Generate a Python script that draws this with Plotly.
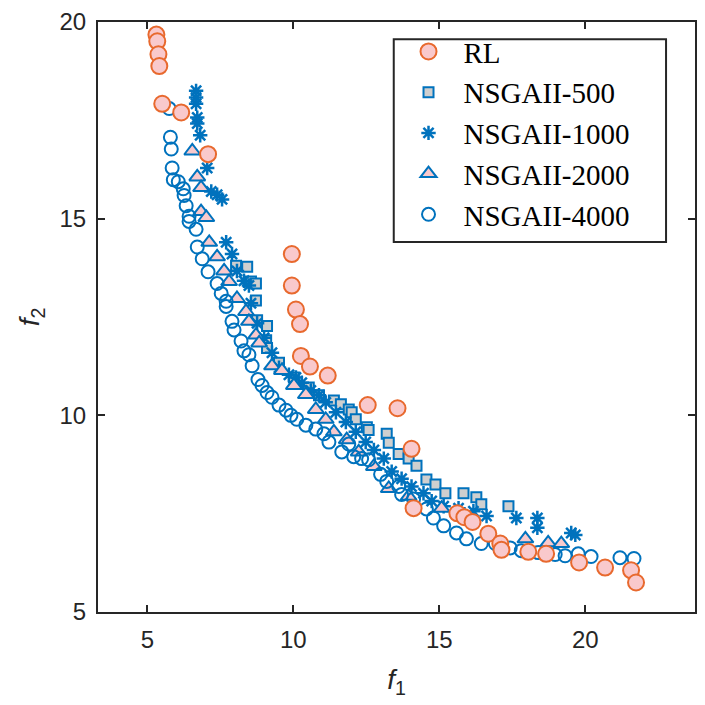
import plotly.graph_objects as go

# ---------------- data ----------------
rl_f1 = [5.31, 5.34, 5.38, 5.41, 5.51, 6.16, 7.08, 9.95, 9.95, 10.09, 10.23, 10.26, 10.57, 11.18,
         12.55, 13.57, 14.05, 14.12, 15.62, 15.86, 16.14, 16.68, 17.09, 17.13, 18.05, 18.66,
         19.79, 20.68, 21.57, 21.74]
rl_f2 = [19.68, 19.51, 19.18, 18.88, 17.92, 17.70, 16.64, 14.10, 13.30, 12.69, 12.32, 11.51, 11.24, 11.01,
         10.26, 10.18, 9.15, 7.64, 7.51, 7.41, 7.29, 6.99, 6.74, 6.58, 6.53, 6.48,
         6.26, 6.13, 6.06, 5.75]

n500_f1 = [8.04, 8.42, 8.55, 8.72, 8.72, 8.76, 9.10, 9.07, 9.10, 9.51, 10.02, 10.53, 10.88, 11.39,
           11.63, 11.90, 12.00, 12.14, 12.52, 12.58, 13.20, 13.27, 13.61, 13.95, 14.22, 14.56,
           14.87, 15.21, 15.83, 16.27, 16.44, 17.37]
n500_f2 = [13.80, 13.78, 13.40, 13.35, 12.92, 12.42, 12.27, 11.91, 11.71, 11.34, 10.96, 10.71, 10.51, 10.38,
           10.28, 10.15, 10.08, 9.90, 9.70, 9.63, 9.53, 9.30, 9.02, 8.90, 8.72, 8.37,
           8.24, 8.02, 8.02, 7.92, 7.74, 7.69]

n1000_f1 = [6.67, 6.67, 6.67, 6.71, 6.71, 6.81, 7.05, 7.19, 7.39, 7.56, 7.70, 7.90, 8.07, 8.31, 8.48,
            8.55, 8.76, 9.00, 9.27, 9.51, 9.85, 10.09, 10.29, 10.60, 10.88, 11.11, 11.46, 11.80,
            12.14, 12.48, 12.76, 13.10, 13.37, 13.71, 14.05, 14.46, 14.74, 15.15, 15.66, 16.17,
            16.62, 17.64, 18.36, 18.36, 19.52, 19.66]
n1000_f2 = [18.25, 18.08, 17.92, 17.57, 17.42, 17.12, 16.29, 15.69, 15.61, 15.49, 14.40, 14.10, 13.67, 13.42, 13.30,
            12.85, 12.34, 11.97, 11.59, 11.21, 11.03, 10.96, 10.83, 10.63, 10.51, 10.33, 10.08, 9.83,
            9.58, 9.32, 9.12, 8.90, 8.57, 8.39, 8.19, 8.02, 7.82, 7.69, 7.64, 7.56,
            7.44, 7.39, 7.39, 7.14, 7.01, 6.96]

n2000_f1 = [6.54, 6.71, 6.84, 6.84, 7.02, 7.12, 7.39, 7.63, 7.80, 8.07, 8.38, 8.48, 8.72, 8.83,
            9.27, 9.61, 10.02, 10.43, 10.77, 11.11, 11.39, 11.83, 12.24, 12.76, 13.27, 13.95,
            15.08, 17.95, 18.73, 19.18]
n2000_f2 = [16.72, 16.06, 15.79, 15.18, 15.03, 14.40, 14.03, 13.67, 13.40, 12.97, 12.64, 12.39, 12.04, 11.84,
            11.26, 11.14, 10.76, 10.53, 10.15, 9.90, 9.58, 9.38, 9.07, 8.70, 8.14, 7.94,
            7.64, 6.86, 6.76, 6.74]

n4000_f1 = [5.75, 5.79, 5.82, 5.85, 5.89, 6.06, 6.23, 6.26, 6.33, 6.43, 6.43, 6.67, 6.71, 6.88, 7.08,
            7.39, 7.53, 7.70, 7.70, 7.90, 7.97, 8.21, 8.31, 8.48, 8.59, 8.79, 8.93, 9.10, 9.27,
            9.51, 9.75, 9.92, 10.12, 10.43, 10.77, 11.05, 11.22, 11.66, 11.90, 12.07, 12.34, 12.58,
            12.99, 13.20, 13.61, 13.71, 14.12, 14.56, 14.80, 15.15, 15.59, 15.93, 16.44, 16.92,
            17.43, 17.81, 18.39, 18.97, 19.31, 19.76, 20.20, 21.19, 21.67]
n4000_f2 = [17.80, 17.07, 16.77, 16.29, 15.99, 15.94, 15.76, 15.59, 15.33, 15.06, 14.93, 14.73, 14.28, 13.98, 13.65,
            13.35, 13.10, 12.90, 12.77, 12.39, 12.17, 11.89, 11.64, 11.54, 11.26, 10.91, 10.76, 10.58, 10.46,
            10.26, 10.13, 10.00, 9.90, 9.75, 9.65, 9.53, 9.32, 9.07, 9.27, 8.95, 8.90, 8.87,
            8.50, 8.32, 8.19, 7.99, 7.87, 7.62, 7.39, 7.19, 7.01, 6.86, 6.74, 6.74,
            6.63, 6.56, 6.51, 6.46, 6.43, 6.48, 6.41, 6.38, 6.36]

x_ticks = [5, 10, 15, 20]
y_ticks = [5, 10, 15, 20]

# ---------------- style ----------------
BLUE = "#0072BD"
ORANGE = "#E8692E"
PINK = "#F9C9CC"
GRAY = "#CFCFCF"
AX = "#262626"

fig = go.Figure()

fig.add_trace(go.Scatter(x=n500_f1, y=n500_f2, mode="markers", name="NSGAII-500", legendrank=2,
                         marker=dict(symbol="square", size=10, color=GRAY, line=dict(color=BLUE, width=2))))
fig.add_trace(go.Scatter(x=n1000_f1, y=n1000_f2, mode="markers", name="NSGAII-1000", legendrank=3,
                         marker=dict(symbol="asterisk-open", size=12, color=BLUE, line=dict(color=BLUE, width=2.5))))
fig.add_trace(go.Scatter(x=n2000_f1, y=n2000_f2, mode="markers", name="NSGAII-2000", legendrank=4,
                         marker=dict(symbol="triangle-up", size=14, color=PINK, line=dict(color=BLUE, width=2))))
fig.add_trace(go.Scatter(x=n4000_f1, y=n4000_f2, mode="markers", name="NSGAII-4000", legendrank=5,
                         marker=dict(symbol="circle-open", size=13, color=BLUE, line=dict(color=BLUE, width=2))))
fig.add_trace(go.Scatter(x=rl_f1, y=rl_f2, mode="markers", name="RL", legendrank=1,
                         marker=dict(symbol="circle", size=16, color=PINK, line=dict(color=ORANGE, width=2))))

axis_common = dict(
    showline=True, linecolor=AX, linewidth=2, mirror="ticks",
    ticks="inside", ticklen=7, tickwidth=2, tickcolor=AX,
    showgrid=False, zeroline=False, ticklabelstandoff=5,
    tickfont=dict(family="Liberation Sans, Arial", size=24, color=AX),
)

fig.update_xaxes(range=[3.31, 23.76], tickmode="array", tickvals=x_ticks,
                 ticktext=[str(v) for v in x_ticks],
                 title=dict(text="<i>f</i><sub>1</sub>", standoff=18,
                            font=dict(family="Liberation Sans, Arial", size=28, color=AX)),
                 **axis_common)
fig.update_yaxes(range=[5, 20], tickmode="array", tickvals=y_ticks,
                 ticktext=[str(v) for v in y_ticks],
                 title=dict(text="<i>f</i><sub>2</sub>", standoff=12,
                            font=dict(family="Liberation Sans, Arial", size=28, color=AX)),
                 **axis_common)

# legend frame drawn as a box behind the legend entries
fig.add_shape(type="rect", xref="paper", yref="paper",
              x0=0.4954, x1=0.9515, y0=0.627, y1=0.9707,
              line=dict(color=AX, width=2), fillcolor="white", layer="above")

fig.update_layout(
    width=705, height=705,
    margin=dict(l=98, r=8, t=15, b=93),
    paper_bgcolor="white", plot_bgcolor="white",
    showlegend=True,
    legend=dict(x=0.495, y=0.993, xanchor="left", yanchor="top",
                bgcolor="rgba(0,0,0,0)", borderwidth=0,
                font=dict(family="Liberation Serif, Times New Roman", size=29, color="black"),
                itemsizing="trace", itemwidth=60, tracegroupgap=0),
)

fig.write_html("out.html")
